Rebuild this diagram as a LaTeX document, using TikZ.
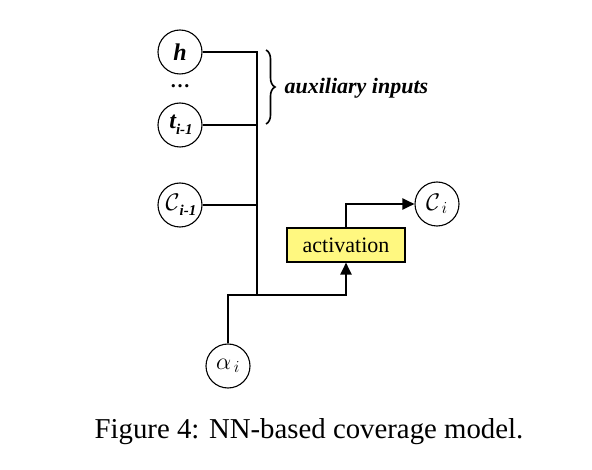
\RequirePackage{fix-cm}
\documentclass[tikz,border=0pt]{standalone}
\usepackage{fontspec}
\setmainfont{Liberation Serif}
\usetikzlibrary{arrows.meta,decorations.pathreplacing}
\newcommand{\sbs}[1]{\raisebox{-0.5ex}{\fontsize{15}{15}\selectfont\bfseries\itshape #1}}
\begin{document}
\begin{tikzpicture}[x=1pt,y=-1pt,
  unit/.style={draw,circle,line width=1.1pt,minimum size=44pt,inner sep=0pt,
    font=\fontsize{24}{24}\selectfont},
  actbox/.style={draw,line width=1.1pt,fill=yellow!50,minimum width=118pt,minimum height=34pt,
    inner sep=0pt,font=\fontsize{22}{22}\selectfont},
  wire/.style={line width=2pt},
  arr/.style={wire,-{Triangle[length=12pt,width=11pt]}}]
\useasboundingbox (0,0) rectangle (592,470);

% inputs
\node[unit] (h) at (180,52) {\bfseries\itshape h};
\node[font=\fontsize{20}{20}\selectfont\bfseries] (dots) at (180,86) {\dots};
\node[unit] (tprev) at (180,125) {\hspace*{2pt}\bfseries\itshape t\sbs{i-1}};
\node[unit] (cprev) at (180,205) {\hspace*{2pt}$\mathcal{C}$\sbs{i-1}};
\node[unit] (alpha) at (228,366) {$\alpha_{\,i}$};

% activation and output
\node[actbox] (act) at (346,245) {activation};
\node[unit] (cnext) at (437,204) {$\mathcal{C}_{\,i}$};

\coordinate (bustop) at (257,52);
\coordinate (busbot) at (257,295);

% wiring
\draw[wire] (h.east) -- (bustop) -- (busbot);
\draw[wire] (tprev.east) -- (tprev -| bustop);
\draw[wire] (cprev.east) -- (cprev -| bustop);
\draw[arr] (alpha.north) |- (busbot) -| (act.south);
\draw[arr] (act.north) |- (cnext.west);

% brace
\draw[line width=1.6pt,decorate,decoration={brace,amplitude=9pt}] (266,50) -- (266,124);
\node[anchor=west,font=\fontsize{22}{22}\selectfont\bfseries\itshape] (aux) at (281,88) {auxiliary inputs};

\node[font=\fontsize{28.8}{28.8}\selectfont] (cap) at (309,432) {Figure 4: NN-based coverage model.};
\end{tikzpicture}
\end{document}
